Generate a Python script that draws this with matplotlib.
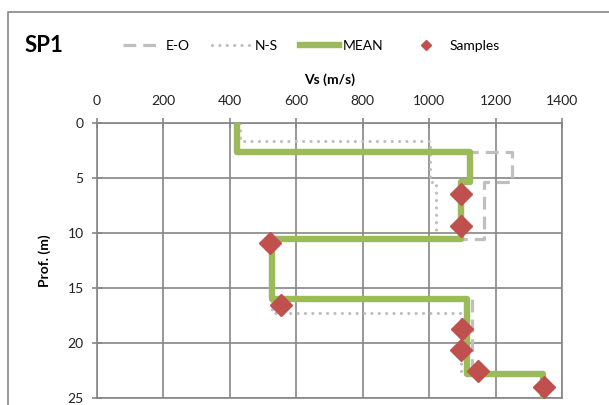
import numpy as np
import matplotlib
matplotlib.use("Agg")
import matplotlib.pyplot as plt
from matplotlib.patches import Rectangle

plt.rcParams['font.family'] = ['Lato', 'DejaVu Sans']

# layer boundaries (m) and Vs (m/s) for each profile
eo_depth = [0, 2.6, 5.4, 10.5, 16.0, 22.8, 25]
eo_vs = [420, 1250, 1166, 527, 1130, 1343]

ns_depth = [0, 1.6, 5.4, 10.5, 17.3, 22.8, 25]
ns_vs = [430, 1003, 1020, 527, 1097, 1343]

mean_depth = [0, 2.6, 5.4, 10.5, 16.0, 22.8, 25]
mean_vs = [420, 1122, 1095, 527, 1114, 1343]

# sample points
sample_vs = [1096, 1096, 521, 555, 1099, 1096, 1147, 1346]
sample_depth = [6.45, 9.4, 10.9, 16.5, 18.7, 20.6, 22.5, 24.0]


def steps(depth, vs):
    # build the stair-step outline: vertical segments per layer
    x = np.repeat(vs, 2)
    y = np.column_stack([depth[:-1], depth[1:]]).ravel()
    return x, y


fig = plt.figure(figsize=(6.09, 4.05), dpi=100)
fig.patches.append(Rectangle((8 / 609, -0.1), 1.2, 1 - 12 / 405 + 0.1,
                             transform=fig.transFigure, fill=False,
                             edgecolor='#868686', linewidth=1.2))

ax = fig.add_axes([97 / 609, 1 - 398 / 405, 465 / 609, 275 / 405])

x, y = steps(eo_depth, eo_vs)
ax.plot(x, y, color='#BFBFBF', lw=2.3, ls=(0, (4, 2.2)), label='E-O', zorder=2)
x, y = steps(ns_depth, ns_vs)
ax.plot(x, y, color='#BFBFBF', lw=2.3, ls=(0, (0.01, 2.3)), dash_capstyle='round',
        label='N-S', zorder=2)
x, y = steps(mean_depth, mean_vs)
ax.plot(x, y, color='#9BBB59', lw=4.6, solid_joinstyle='round', label='MEAN', zorder=3)
ax.plot(sample_vs, sample_depth, ls='none', marker='D', ms=11, color='#C0504D',
        label='Samples', zorder=4)

ax.set_xlim(0, 1400)
ax.set_ylim(25, 0)
ax.set_xticks(range(0, 1401, 200))
ax.set_yticks(range(0, 26, 5))
ax.xaxis.tick_top()
ax.xaxis.set_label_position('top')
ax.tick_params(axis='both', direction='inout', length=7, width=1.2, color='#868686',
               labelsize=10, labelcolor='#222222', pad=6)
ax.tick_params(axis='x', pad=8)
ax.grid(True, color='#868686', lw=1.2)
ax.set_axisbelow(True)
for s in ax.spines.values():
    s.set_color('#868686')
    s.set_linewidth(1.2)
ax.set_xlabel('Vs (m/s)', fontweight='bold', fontsize=10, labelpad=8)
ax.set_ylabel('Prof. (m)', fontweight='bold', fontsize=10, labelpad=12)

fig.text(25 / 609, 1 - 46 / 405, 'SP1', fontsize=16, fontweight='bold', va='center')
fig.legend(loc='center left', bbox_to_anchor=(110 / 609, 1 - 46 / 405), ncol=4,
           frameon=False, fontsize=10, handlelength=2.8, columnspacing=1.6,
           handletextpad=0.3, numpoints=1, markerscale=0.45)

fig.savefig('out.png', dpi=100)
